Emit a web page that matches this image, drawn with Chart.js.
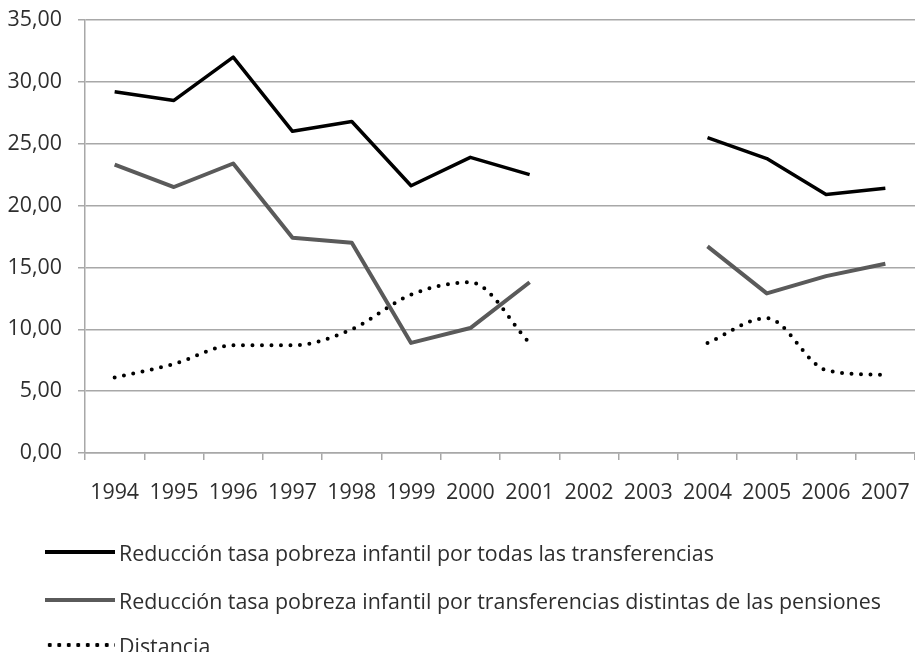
<!DOCTYPE html>
<html>
<head>
<meta charset="utf-8">
<script src="https://cdn.jsdelivr.net/npm/chart.js@4"></script>
<style>
  html, body { margin: 0; padding: 0; background: #fff; }
  #wrap { position: relative; width: 915px; height: 652px; }
  #legend { position: absolute; left: 0; top: 0; width: 915px; height: 652px; pointer-events: none;
    font-family: "Open Sans", sans-serif; font-size: 21.4px; color: #2e2e2e; }
  .item { position: absolute; left: 45px; height: 30px; display: flex; align-items: center; white-space: nowrap; }
  .sw { width: 70px; height: 6px; margin-right: 4px; position: relative; }
  .solid { position: absolute; left: 0; right: 0; top: 1px; height: 4px; }
  .dots { position: absolute; left: 0; right: 0; top: 0; height: 6px;
    background: radial-gradient(circle, #000 1.9px, transparent 2.4px) 0 0 / 9.5px 6px repeat-x; }
</style>
</head>
<body>
<div id="wrap">
  <canvas id="c" width="915" height="652"></canvas>
  <div id="legend"></div>
</div>
<script>
const years = ["1994","1995","1996","1997","1998","1999","2000","2001","2002","2003","2004","2005","2006","2007"];
const seriesNames = [
  "Reducción tasa pobreza infantil por todas las transferencias",
  "Reducción tasa pobreza infantil por transferencias distintas de las pensiones",
  "Distancia"
];
const todas = [29.2, 28.5, 32.0, 26.0, 26.8, 21.6, 23.9, 22.5, null, null, 25.5, 23.8, 20.9, 21.4];
const distintas = [23.3, 21.5, 23.4, 17.4, 17.0, 8.9, 10.1, 13.8, null, null, 16.7, 12.9, 14.3, 15.3];
const distancia = [6.1, 7.2, 8.7, 8.7, 10.0, 12.8, 13.8, 8.9, null, null, 8.9, 10.9, 6.7, 6.3];
const yTicks = [0, 5, 10, 15, 20, 25, 30, 35];

const colors = ["#000000", "#5a5a5a", "#000000"];
const gridColor = "#a8a8a8";
const fontFamily = "'Open Sans', sans-serif";

new Chart(document.getElementById("c"), {
  type: "line",
  data: {
    labels: years,
    datasets: [
      { label: seriesNames[0], data: todas, borderColor: colors[0], borderWidth: 3.5,
        pointRadius: 0, tension: 0, spanGaps: false, borderJoinStyle: "round" },
      { label: seriesNames[1], data: distintas, borderColor: colors[1], borderWidth: 4,
        pointRadius: 0, tension: 0, spanGaps: false, borderJoinStyle: "round" },
      { label: seriesNames[2], data: distancia, borderColor: colors[2], borderWidth: 4,
        borderDash: [0, 9.5], borderCapStyle: "round",
        pointRadius: 0, cubicInterpolationMode: "monotone", spanGaps: false }
    ]
  },
  options: {
    responsive: false,
    animation: false,
    layout: { padding: { top: 20, right: 0, bottom: 0, left: 0 } },
    plugins: { legend: { display: false }, tooltip: { enabled: false } },
    scales: {
      x: {
        offset: true,
        grid: { display: true, drawOnChartArea: false, drawTicks: true, tickLength: 7,
                offset: true, color: gridColor, lineWidth: 1.5 },
        border: { display: true, color: gridColor, width: 1.5 },
        ticks: { color: "#2e2e2e", font: { family: fontFamily, size: 21.4 }, padding: 20,
                 maxRotation: 0, autoSkip: false },
        afterFit: (s) => { s.height = 199; s.paddingLeft = 0; s.paddingRight = 0; }
      },
      y: {
        min: 0, max: 35,
        afterBuildTicks: (s) => { s.ticks = yTicks.map(v => ({ value: v })); },
        grid: { color: gridColor, lineWidth: 1.5, tickLength: 7, drawTicks: true },
        border: { display: true, color: gridColor, width: 1.5 },
        ticks: { color: "#2e2e2e", font: { family: fontFamily, size: 21.4 }, padding: 16,
                 callback: (v) => v.toFixed(2).replace(".", ",") },
        afterFit: (s) => { s.width = 85; s.paddingTop = 0; s.paddingBottom = 0; }
      }
    }
  }
});

// HTML legend
const legend = document.getElementById("legend");
const legendY = [552, 600, 645];
seriesNames.forEach((name, i) => {
  const it = document.createElement("div");
  it.className = "item";
  it.style.top = (legendY[i] - 15) + "px";
  const sw = document.createElement("div");
  sw.className = "sw";
  const mark = document.createElement("div");
  if (i === 2) {
    mark.className = "dots";
  } else {
    mark.className = "solid";
    mark.style.background = colors[i];
  }
  sw.appendChild(mark);
  const t = document.createElement("span");
  t.textContent = name;
  it.appendChild(sw);
  it.appendChild(t);
  legend.appendChild(it);
});
</script>
</body>
</html>
